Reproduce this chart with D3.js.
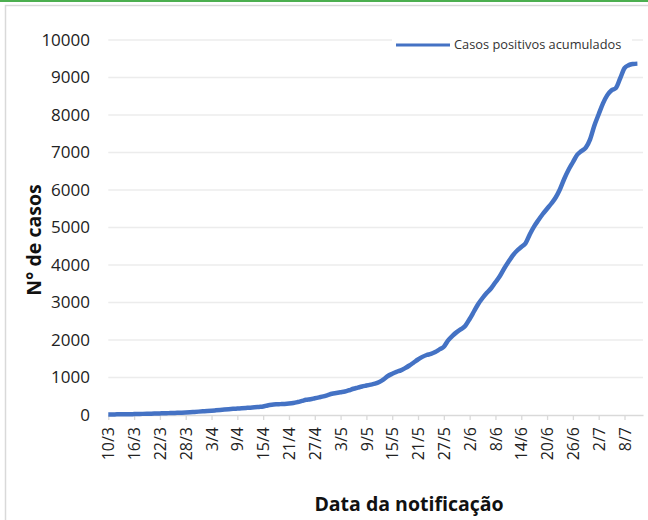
<!DOCTYPE html>
<html><head><meta charset="utf-8">
<script src="https://cdn.jsdelivr.net/npm/d3@7"></script>
<style>body{margin:0;background:#fff}svg{display:block}text{font-family:"Open Sans","Noto Sans",sans-serif}</style>
</head><body><svg id="c" width="648" height="520"></svg>
<script>
// ---- data ----
const startDate = [2020, 2, 10]; // 10/3/2020, one value per day
const cumulativeCases = [
  15,16,17,18,19,21,24,27,30,32,
  35,39,43,47,50,54,58,62,67,74,
  82,90,98,106,115,125,135,145,155,164,
  172,180,188,196,205,215,225,255,275,285,
  290,295,305,320,345,375,405,420,445,470,
  495,530,565,585,605,625,660,700,730,760,
  785,810,835,880,950,1040,1100,1150,1190,1250,
  1320,1400,1480,1550,1600,1630,1680,1750,1820,1990,
  2110,2210,2290,2380,2560,2760,2960,3120,3260,3380,
  3540,3700,3900,4080,4250,4380,4480,4580,4820,5030,
  5200,5360,5500,5640,5800,6020,6300,6540,6740,6940,
  7040,7130,7350,7720,8020,8310,8530,8660,8720,8980,
  9250,9330,9360,9370
];
const yTicks = [0,1000,2000,3000,4000,5000,6000,7000,8000,9000,10000];
const xTickLabels = ["10/3","16/3","22/3","28/3","3/4","9/4","15/4","21/4","27/4","3/5","9/5",
  "15/5","21/5","27/5","2/6","8/6","14/6","20/6","26/6","2/7","8/7"];
const seriesName = "Casos positivos acumulados";
const yTitle = "N° de casos";
const xTitle = "Data da notificação";

// ---- chart ----
const svg = d3.select("#c");
const DAY = 864e5;
const t0 = new Date(startDate[0], startDate[1], startDate[2]);
const data = cumulativeCases.map((v, i) => ({date: new Date(t0.getTime() + i * DAY), value: v}));
const parseLabel = s => { const [d, m] = s.split("/").map(Number); return new Date(2020, m - 1, d); };

const x = d3.scaleTime().domain([t0, new Date(t0.getTime() + 124.3 * DAY)]).range([108.3, 643]);
const y = d3.scaleLinear().domain([0, 10000]).range([415, 40]);

// frame
svg.append("rect").attr("x", 5.5).attr("y", 5.5).attr("width", 700).attr("height", 600)
  .attr("fill", "#fff").attr("stroke", "#d9d9d9").attr("stroke-width", 1.5);
svg.append("line").attr("x1", 0).attr("x2", 648).attr("y1", 1).attr("y2", 1)
  .attr("stroke", "#4caf50").attr("stroke-width", 2);

// gridlines
svg.append("g").selectAll("line").data(yTicks.filter(d => d > 0)).join("line")
  .attr("x1", x.range()[0]).attr("x2", x.range()[1])
  .attr("y1", d => y(d)).attr("y2", d => y(d))
  .attr("stroke", "#ececec").attr("stroke-width", 1.3);

// y labels
svg.append("g").selectAll("text").data(yTicks).join("text")
  .attr("x", 90).attr("y", d => y(d)).attr("dy", "0.35em")
  .attr("text-anchor", "end").attr("font-size", 17).attr("fill", "#222")
  .text(d => d);

// x axis
const xAxis = d3.axisBottom(x)
  .tickValues(xTickLabels.map(parseLabel))
  .tickFormat((d, i) => xTickLabels[i])
  .tickSize(5).tickSizeOuter(0);
const gx = svg.append("g").attr("transform", "translate(0,415)").call(xAxis);
gx.select(".domain").attr("stroke", "#d9d9d9").attr("stroke-width", 1.5);
gx.selectAll(".tick line").attr("stroke", "#d9d9d9").attr("stroke-width", 1.3);
gx.selectAll(".tick text")
  .attr("font-family", '"Open Sans","Noto Sans",sans-serif')
  .attr("font-size", 16).attr("fill", "#222")
  .attr("transform", "rotate(-90)")
  .attr("text-anchor", "end").attr("x", -12).attr("y", 0).attr("dy", "0.35em");

// line
const line = d3.line().x(d => x(d.date)).y(d => y(d.value)).curve(d3.curveMonotoneX);
svg.append("path").datum(data).attr("d", line)
  .attr("fill", "none").attr("stroke", "#4472c4").attr("stroke-width", 4.5)
  .attr("stroke-linejoin", "round");

// legend
svg.append("rect").attr("x", 392).attr("y", 34).attr("width", 240).attr("height", 22).attr("fill", "#fff");
svg.append("line").attr("x1", 396).attr("x2", 450).attr("y1", 45).attr("y2", 45)
  .attr("stroke", "#4472c4").attr("stroke-width", 3);
svg.append("text").attr("x", 454).attr("y", 45).attr("dy", "0.35em")
  .attr("font-size", 12.8).attr("fill", "#333").text(seriesName);

// titles
svg.append("text").attr("transform", "translate(41,240) rotate(-90)")
  .attr("text-anchor", "middle").attr("font-size", 19.5).attr("font-weight", "bold")
  .attr("fill", "#111").text(yTitle);
svg.append("text").attr("x", 409).attr("y", 511).attr("text-anchor", "middle")
  .attr("font-size", 19.5).attr("font-weight", "bold").attr("fill", "#111").text(xTitle);
</script></body></html>
